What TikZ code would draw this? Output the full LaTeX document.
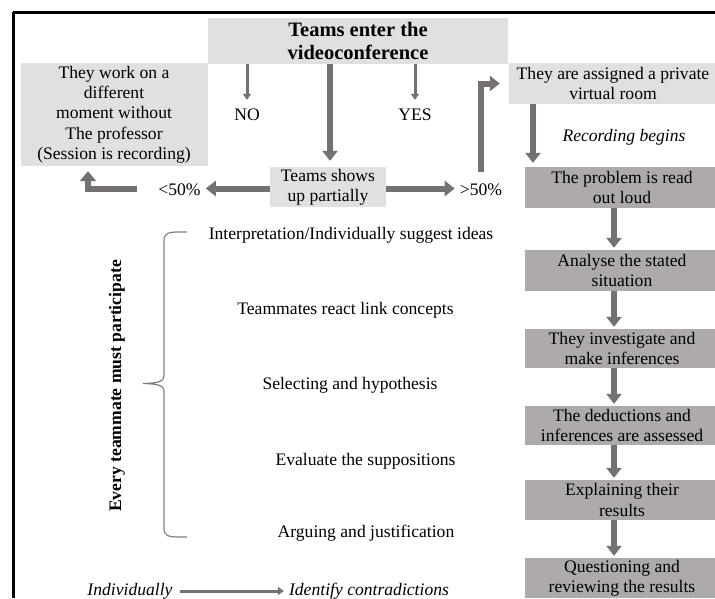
\documentclass[tikz,border=0pt]{standalone}
\usepackage{fontspec}
\setmainfont{Liberation Serif}
\usetikzlibrary{arrows.meta}
\definecolor{lightbox}{HTML}{E0E0E0}
\definecolor{darkbox}{HTML}{AEAAAA}
\definecolor{arrowc}{HTML}{767171}
\definecolor{bracec}{HTML}{7F7F7F}
\tikzset{
  basefont/.style={font=\fontsize{17.6}{20.3}\selectfont},
  lbox/.style={basefont, fill=lightbox, inner sep=0pt, align=center},
  dbox/.style={basefont, fill=darkbox, inner sep=0pt, align=center, minimum width=194pt},
  txt/.style={basefont, inner sep=0pt, align=center},
  bigarrow/.style={draw=arrowc, line width=6pt, -{Triangle[length=10pt,width=15pt]}},
  thinarrow/.style={draw=arrowc, line width=3pt, -{Triangle[length=6pt,width=8pt]}},
}
\begin{document}
\begin{tikzpicture}[x=1pt,y=-1pt]
\useasboundingbox (0,0) rectangle (715,598);
% frame
\draw[line width=3pt] (13,12) -- (715,12);
\draw[line width=3pt] (13,12) -- (13,598);

% top boxes
\node[lbox, minimum width=300pt, minimum height=46pt, font=\bfseries\fontsize{20.5}{23.5}\selectfont] (title) at (358,41) {Teams enter the\\videoconference};
\node[lbox, minimum width=187pt, minimum height=103pt] (left) at (114,114.5) {They work on a\\different\\moment without\\The professor\\(Session is recording)};
\node[lbox, minimum width=116pt, minimum height=40pt] (partial) at (328,187) {Teams shows\\up partially};
\node[lbox, minimum width=208pt, minimum height=41pt] (assigned) at (613,83.5) {They are assigned a private\\virtual room};

% labels
\node[txt] (no) at (247,115) {NO};
\node[txt] (yes) at (415,115) {YES};
\node[txt] (lt) at (179.5,190) {<50\%};
\node[txt] (gt) at (481,190) {>50\%};
\node[txt, font=\itshape\fontsize{17.6}{20.3}\selectfont] (rec) at (624,137) {Recording begins};

% right column
\node[dbox, minimum height=41pt] (read) at (622,187.5) {The problem is read\\out loud};
\node[dbox, minimum height=41pt] (analyse) at (622,270.5) {Analyse the stated\\situation};
\node[dbox, minimum height=39pt] (invest) at (622,348.5) {They investigate and\\make inferences};
\node[dbox, minimum height=39pt] (deduc) at (622,425.5) {The deductions and\\inferences are assessed};
\node[dbox, minimum height=40pt] (explain) at (622,500) {Explaining their\\results};
\node[dbox, minimum height=40pt] (question) at (622,578) {Questioning and\\reviewing the results};

\coordinate (ax) at (614,0);
\coordinate (rx) at (533,0);
\coordinate (lx) at (88,0);
\coordinate (cx) at (330,0);
\coordinate (lstart) at (137,188.5);

% arrows top
\draw[thinarrow, shorten >=9pt] (title.south -| no) -- (no.north);
\draw[thinarrow, shorten >=9pt] (title.south -| yes) -- (yes.north);
\draw[bigarrow, shorten >=6pt] (title.south -| cx) -- (partial.north -| cx);
\draw[bigarrow, shorten >=5pt] (partial.west |- lstart) -- (lt.east |- lstart);
\draw[bigarrow, shorten >=5pt] (partial.east |- lstart) -- (gt.west |- lstart);
\draw[draw=arrowc, line width=6pt, -{Triangle[length=10pt,width=16pt]}, shorten >=5pt] (lstart) -| (left.south -| lx);
\draw[draw=arrowc, line width=6pt, -{Triangle[length=10pt,width=15pt]}, shorten >=9pt] ([yshift=12pt]gt.north) |- (assigned.west);
\draw[bigarrow, shorten >=4pt] (assigned.south -| rx) -- (read.north -| rx);

% right column arrows
\draw[bigarrow, shorten >=2pt] (read.south -| ax) -- (analyse.north -| ax);
\draw[bigarrow, shorten >=2pt] (analyse.south -| ax) -- (invest.north -| ax);
\draw[bigarrow, shorten >=2pt] (invest.south -| ax) -- (deduc.north -| ax);
\draw[bigarrow, shorten >=2pt] (deduc.south -| ax) -- (explain.north -| ax);
\draw[bigarrow, shorten >=2pt] (explain.south -| ax) -- (question.north -| ax);

% list items
\node[txt] (i1) at (351,235) {Interpretation/Individually suggest ideas};
\node[txt] (i2) at (345.5,310) {Teammates react link concepts};
\node[txt] (i3) at (350,385) {Selecting and hypothesis};
\node[txt] (i4) at (365.5,461) {Evaluate the suppositions};
\node[txt] (i5) at (366,533) {Arguing and justification};

% brace
\draw[bracec, line width=1.2pt] (187,232) .. controls (166,231.5) and (164,233) .. (164,242)
  -- (164,375) .. controls (164,382) and (158,383) .. (143,383.5)
  .. controls (158,384) and (164,385) .. (164,392)
  -- (164,527) .. controls (164,536) and (166,537.5) .. (187,537);

\node[font=\bfseries\fontsize{17.6}{20.3}\selectfont, rotate=90, inner sep=0pt] (every) at (117,386) {Every teammate must participate};

% bottom
\node[txt, font=\itshape\fontsize{17.6}{20.3}\selectfont] (ind) at (130,591) {Individually};
\node[txt, font=\itshape\fontsize{17.6}{20.3}\selectfont] (ide) at (369,591) {Identify contradictions};
\draw[thinarrow, shorten <=7pt, shorten >=5pt] (ind.east) -- (ide.west);
\end{tikzpicture}
\end{document}
